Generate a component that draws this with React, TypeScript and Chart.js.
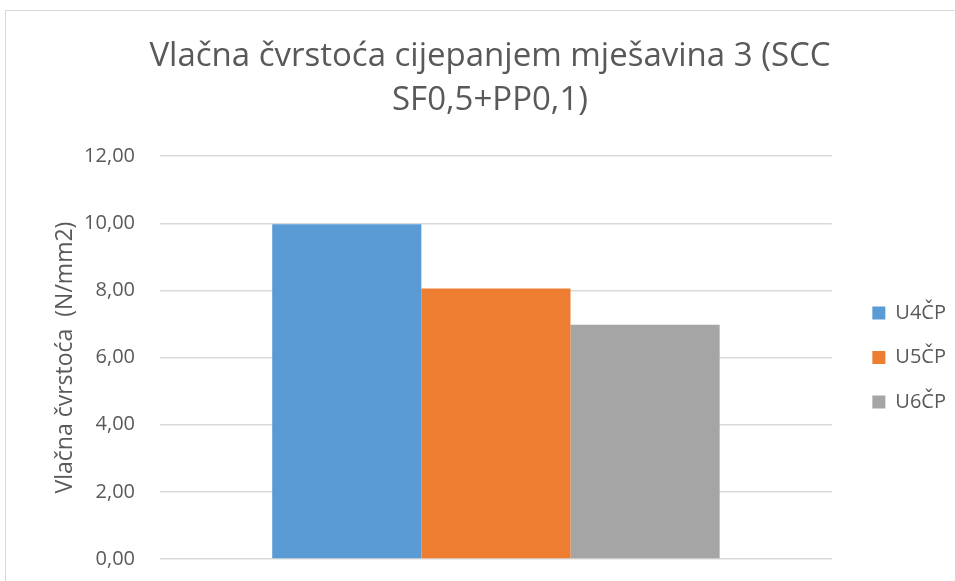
import React, { useEffect, useRef } from "react";
import { Chart, registerables } from "chart.js";

Chart.register(...registerables);

const categories = [""];
const seriesNames = ["U4ČP", "U5ČP", "U6ČP"];
const seriesValues = [9.97, 8.06, 6.98];
const seriesColors = ["#5B9BD5", "#ED7D31", "#A5A5A5"];
const titleLines = ["Vlačna čvrstoća cijepanjem mješavina 3 (SCC", "SF0,5+PP0,1)"];
const yAxisTitle = "Vlačna čvrstoća  (N/mm2)";
const yMin = 0;
const yMax = 12;
const yStep = 2;

const FONT = "'Open Sans', Lato, sans-serif";
const TEXT = "#595959";

export default function App() {
  const ref = useRef<HTMLCanvasElement | null>(null);

  useEffect(() => {
    if (!ref.current) return;
    const chart = new Chart(ref.current, {
      type: "bar",
      data: {
        labels: categories,
        datasets: seriesNames.map((name, i) => ({
          label: name,
          data: [seriesValues[i]],
          backgroundColor: seriesColors[i],
          borderWidth: 0,
          categoryPercentage: 0.666,
          barPercentage: 1,
          yAxisID: "y",
        })),
      },
      options: {
        animation: false,
        responsive: false,
        maintainAspectRatio: false,
        layout: { padding: { left: 18, right: 18, top: 0, bottom: 50 } },
        plugins: {
          title: {
            display: true,
            text: titleLines,
            color: TEXT,
            font: { family: FONT, size: 33, weight: "normal", lineHeight: 1.32 },
            padding: { top: 24, bottom: 34 },
          },
          legend: {
            position: "right",
            align: "center",
            fullSize: false,
            labels: {
              color: TEXT,
              font: { family: FONT, size: 20 },
              boxWidth: 13,
              boxHeight: 13,
              padding: 24.5,
            },
          },
          tooltip: { enabled: false },
        },
        scales: {
          x: { display: false },
          y: {
            position: "left",
            min: yMin,
            max: yMax,
            ticks: {
              stepSize: yStep,
              color: TEXT,
              font: { family: FONT, size: 20 },
              padding: 25,
              callback: (v: any) => Number(v).toFixed(2).replace(".", ","),
            },
            grid: { color: "#d9d9d9", lineWidth: 1.5, drawTicks: false },
            border: { display: false },
            title: {
              display: true,
              text: yAxisTitle,
              color: TEXT,
              font: { family: FONT, size: 23 },
              padding: { top: 28, bottom: 0 },
            },
            afterFit: (s: any) => {
              s.width = 136;
            },
          },
          spacer: {
            type: "linear",
            position: "right",
            display: true,
            grid: { display: false, drawTicks: false },
            border: { display: false },
            ticks: { display: false },
            afterFit: (s: any) => {
              s.width = 16;
            },
          },
        },
      } as any,
    });
    return () => chart.destroy();
  }, []);

  return (
    <div
      style={{
        position: "fixed",
        left: 0,
        top: 0,
        width: 955,
        height: 581,
        overflow: "hidden",
        background: "#fff",
      }}
    >
      <div
        style={{
          position: "absolute",
          left: 5,
          top: 10,
          width: 968,
          height: 598,
          border: "1px solid #d9d9d9",
        }}
      >
        <canvas ref={ref} width={968} height={598} style={{ display: "block" }} />
      </div>
    </div>
  );
}
